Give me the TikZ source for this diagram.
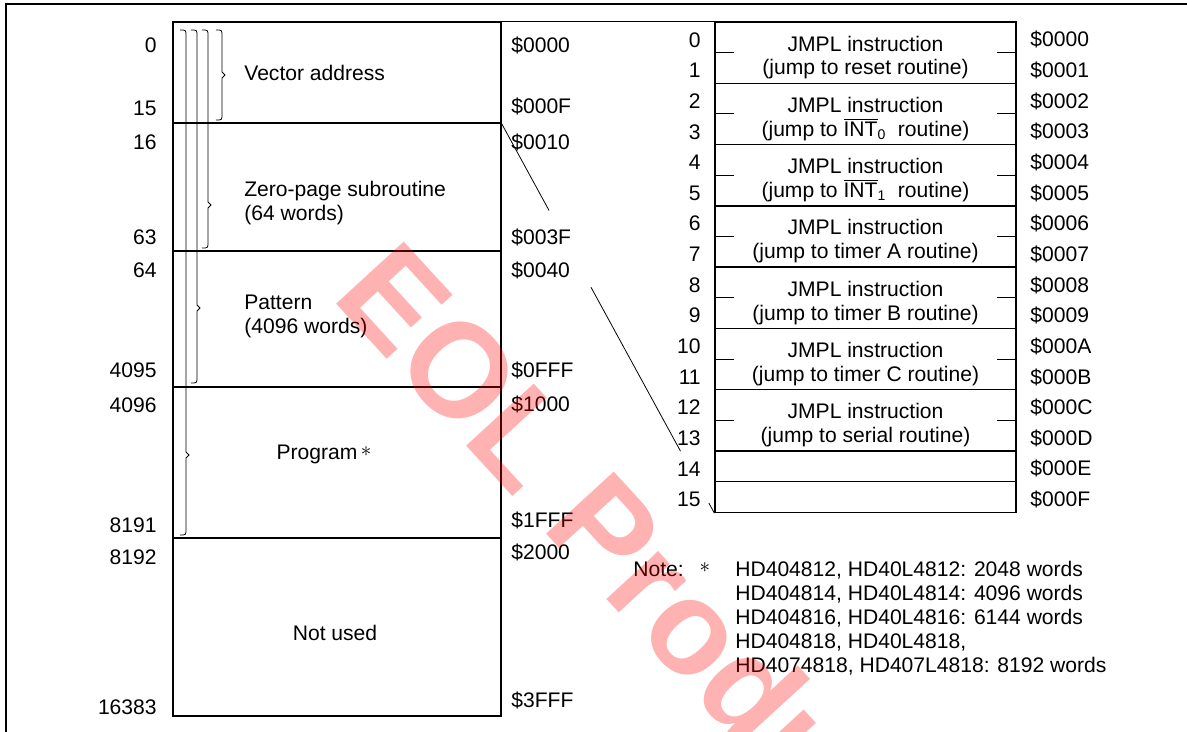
\documentclass[tikz,border=0pt]{standalone}
\usepackage{fontspec}
\setmainfont{Liberation Sans}
\usetikzlibrary{calc}

\def\rowh{30.65}

\begin{document}
\begin{tikzpicture}[x=0.02cm,y=-0.02cm,font=\fontsize{12}{13.6}\selectfont]
    \tikzstyle{every node}=[inner sep=0pt]
    \tikzstyle{region}=[draw,line width=0.8pt,minimum width=6.56cm]
    \tikzstyle{cell}=[draw,line width=0.8pt,minimum width=6.02cm]
    \tikzstyle{dec}=[anchor=east]
    \tikzstyle{hex}=[anchor=west]
    \tikzstyle{brace}=[line width=0.45pt]
    \tikzstyle{zoomline}=[line width=0.45pt]
    \tikzstyle{tick}=[line width=0.6pt]
    \tikzstyle{stamp}=[text=red,opacity=0.3,rotate=-47.5,anchor=west,font=\fontsize{76}{76}\selectfont\bfseries]

    \useasboundingbox (0,0) rectangle (1187,732);

    % Draw the page frame.
    \draw[line width=0.9pt] (6,732) -- (6,4) -- (1187,4);

    % Draw the memory map on the left.
    \foreach \name/\ytop/\ybot in {vec/22/123,zero/123/251,pat/251/387,prog/387/538,free/538/716}
        \node[region,minimum height={(\ybot-\ytop)*0.02cm}] (\name) at (337,{(\ytop+\ybot)/2}) {};

    \node[anchor=west] (vec-t) at (244,73) {Vector address};
    \node[anchor=west,align=left] (zero-t) at (244,203) {Zero-page subroutine\\(64 words)};
    \node[anchor=west,align=left] (pat-t) at (244,316) {Pattern\\(4096 words)};
    \node (prog-t) at (324,454) {Program\,\raisebox{1.5pt}{$\ast$}};
    \node (free-t) at (335,633) {Not used};

    % Draw the braces.
    \foreach \x/\yb/\yt in {222/120/75,208/248/205,197/383/308,186/535/455}
        \draw[brace] (\x-6,30) .. controls (\x,30) .. (\x,36) -- (\x,\yt-3) -- (\x+3,\yt)
            -- (\x,\yt+3) -- (\x,\yb-6) .. controls (\x,\yb) .. (\x-6,\yb);

    % Addresses of the map.
    \foreach \d/\y in {0/45,15/108,16/142,63/237,64/270,4095/370,4096/405,8191/525,8192/557,16383/707}
        \node[dec] (d-\d) at (157,\y) {\d};
    \foreach \h/\y in {0000/45,000F/106,0010/142,003F/237,0040/270,0FFF/370,1000/404,1FFF/520,2000/552,3FFF/700}
        \node[hex] (h-\h) at (511,\y) {\$\h};

    % Draw the vector table on the right.
    \foreach \i/\what in {0/{reset routine},
                          1/{$\overline{\mbox{INT}}$\textsubscript{0}~ routine},
                          2/{$\overline{\mbox{INT}}$\textsubscript{1}~ routine},
                          3/{timer A routine},4/{timer B routine},
                          5/{timer C routine},6/{serial routine}} {
        \node[cell,minimum height=2*\rowh*0.02cm] (R-\i) at (865.5,{22+(2*\i+1)*\rowh}) {};
        \node[align=center] (R-\i-t) at ([yshift=-2.8pt]R-\i.center) {JMPL instruction\\(jump to \what)};
        \draw[tick] (R-\i.west) -- ++(20,0);
        \draw[tick] (R-\i.east) -- ++(-20,0);
    }
    \node[cell,minimum height=\rowh*0.02cm] (R-7) at (865.5,{22+14.5*\rowh}) {};
    \node[cell,minimum height=\rowh*0.02cm] (R-8) at (865.5,{22+15.5*\rowh}) {};

    % Row numbers and addresses of the table.
    \foreach \i/\h in {0/0,1/1,2/2,3/3,4/4,5/5,6/6,7/7,8/8,9/9,10/A,11/B,12/C,13/D,14/E,15/F} {
        \node[dec] (n-\i) at (701,{22+(\i+0.5)*\rowh+2.5}) {\i};
        \node[hex] (a-\i) at (1030,{22+(\i+0.5)*\rowh+2.5}) {\$000\h};
    }

    % Connect the map with the table.
    \draw[tick] (vec.north east) -- (R-0.north west);
    \draw[zoomline] (vec.south east) -- ($(vec.south east)!0.223!(R-8.south west)$);
    \draw[zoomline] ($(vec.south east)!0.42!(R-8.south west)$) -- ($(vec.south east)!0.841!(R-8.south west)$);
    \draw[zoomline] ($(vec.south east)!0.974!(R-8.south west)$) -- (R-8.south west);

    % Note.
    \node[anchor=west] (note) at (633,569) {Note:};
    \node (note-star) at (705,568) {$\ast$};
    \node[anchor=north west,align=left] (note-t) at (735,561) {HD404812, HD40L4812: 2048 words\\
        HD404814, HD40L4814: 4096 words\\
        HD404816, HD40L4816: 6144 words\\
        HD404818, HD40L4818,\\
        HD4074818, HD407L4818: 8192 words};

    % Stamp.
    \begin{scope}
        \clip (0,0) rectangle (1187,732);
        \node[stamp] (stamp) at (365,265) {EOL Products};
    \end{scope}
\end{tikzpicture}
\end{document}
